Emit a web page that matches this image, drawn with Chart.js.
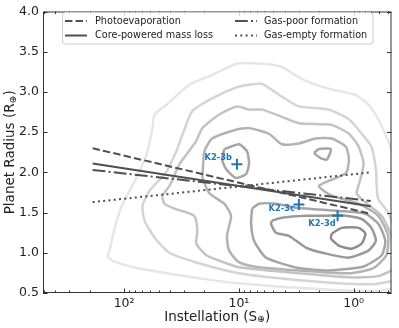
<!DOCTYPE html>
<html>
<head>
<meta charset="utf-8">
<script src="https://cdn.jsdelivr.net/npm/chart.js@4.4.1/dist/chart.umd.min.js"></script>
<style>
  html, body { margin: 0; padding: 0; background: #fff; }
</style>
</head>
<body>
<canvas id="c" width="399" height="328"></canvas>
<script>
// radius valley models, [instellation, radius] at both ends
const photoevap = [[188, 2.30], [0.71, 1.485]];
const corePowered = [[188, 2.11], [0.71, 1.58]];
const gasPoor = [[188, 2.03], [0.71, 1.645]];
const gasEmpty = [[188, 1.63], [0.71, 2.00]];
const modelNames = ['Photoevaporation', 'Core-powered mass loss', 'Gas-poor formation', 'Gas-empty formation'];

// K2-3 planets
const planetNames = ['K2-3b', 'K2-3c', 'K2-3d'];
const planetS = [10.4, 3.0, 1.38];
const planetR = [2.10, 1.60, 1.46];

// density contours of the planet sample, outer to inner, [S, R]
const contourA = [[0.42, 2.08], [0.50, 2.39], [0.61, 2.66], [0.74, 2.84], [0.96, 2.96], [1.65, 3.04], [2.83, 3.16],
  [4.22, 3.31], [6.28, 3.35], [10.4, 3.35], [17.1, 3.21], [27.0, 3.09], [42.8, 2.84], [54.3, 2.72], [56.6, 2.55],
  [63.8, 2.22], [81, 1.89], [105, 1.58], [121, 1.30], [134, 1.03], [139, 0.95], [121, 0.89], [78, 0.81],
  [33.0, 0.72], [17.1, 0.66], [9.95, 0.62], [3.66, 0.57], [1.35, 0.535], [0.67, 0.52], [0.42, 0.56]];
const contourB = [[0.42, 1.21], [0.50, 1.50], [0.61, 1.67], [0.63, 1.83], [0.64, 2.04], [0.70, 2.32], [0.85, 2.48],
  [1.10, 2.66], [1.65, 2.78], [3.00, 2.82], [4.22, 2.94], [6.28, 3.10], [8.15, 3.09], [10.4, 3.06], [17.1, 2.92],
  [25.5, 2.76], [31.0, 2.47], [35.1, 2.26], [43.6, 1.99], [60.1, 1.77], [69.2, 1.58], [66.4, 1.40], [54.3, 1.19],
  [40.3, 1.00], [23.5, 0.88], [9.95, 0.745], [3.66, 0.67], [1.35, 0.62], [0.67, 0.61], [0.42, 0.66]];
const contourC = [[0.42, 1.03], [0.48, 1.25], [0.57, 1.46], [0.82, 1.645], [0.94, 1.74], [0.87, 1.92], [0.82, 2.11],
  [0.905, 2.32], [1.10, 2.48], [1.55, 2.59], [3.00, 2.61], [4.22, 2.69], [6.28, 2.78], [8.15, 2.78], [10.4, 2.82],
  [14.8, 2.72], [20.8, 2.55], [23.5, 2.39], [28.7, 2.22], [33.0, 2.10], [40.3, 1.83], [46.3, 1.71], [44.5, 1.61],
  [36.5, 1.55], [24.5, 1.46], [23.0, 1.28], [23.5, 1.115], [19.2, 0.97], [12.9, 0.87], [9.95, 0.82], [3.00, 0.745],
  [1.10, 0.695], [0.61, 0.71], [0.42, 0.81]];
const contourD = [[20.8, 1.93], [20.0, 2.26], [17.1, 2.42], [10.6, 2.53], [8.15, 2.55], [5.47, 2.48], [4.22, 2.35],
  [3.00, 2.36], [2.14, 2.42], [1.55, 2.42], [1.17, 2.32], [1.10, 2.16], [1.17, 1.99], [2.01, 1.83], [1.55, 1.71],
  [0.905, 1.61], [0.61, 1.46], [0.50, 1.21], [0.52, 0.97], [0.67, 0.81], [1.10, 0.745], [3.00, 0.78], [6.67, 0.82],
  [9.95, 0.88], [12.2, 1.03], [12.7, 1.21], [11.7, 1.46], [13.4, 1.61], [18.1, 1.74], [20.8, 1.93]];
const contourE1 = [[13.4, 2.29], [9.95, 2.35], [8.49, 2.26], [8.15, 2.11], [8.65, 1.98], [10.6, 1.93], [12.9, 2.04],
  [14.0, 2.16], [13.4, 2.29]];
const contourE2 = [[2.22, 2.24], [2.01, 2.29], [1.58, 2.29], [1.71, 2.16], [1.93, 2.175], [2.22, 2.24]];
const contourE3 = [[7.67, 1.55], [6.67, 1.61], [4.75, 1.61], [3.18, 1.56], [1.35, 1.52], [0.79, 1.485], [0.61, 1.36],
  [0.53, 1.15], [0.57, 0.97], [0.82, 0.83], [1.65, 0.78], [3.00, 0.81], [5.80, 0.94], [7.38, 1.15], [7.83, 1.37],
  [7.67, 1.55]];
const contourF = [[5.15, 1.40], [4.22, 1.435], [2.61, 1.46], [1.75, 1.46], [1.35, 1.47], [0.85, 1.42], [0.70, 1.31],
  [0.64, 1.15], [0.74, 1.03], [1.10, 0.94], [1.75, 0.99], [2.61, 1.065], [3.66, 1.21], [4.75, 1.25], [5.25, 1.36],
  [5.15, 1.40]];
const contourG = [[1.55, 1.24], [1.27, 1.31], [0.905, 1.31], [0.79, 1.24], [0.85, 1.115], [1.04, 1.05], [1.35, 1.09],
  [1.58, 1.18], [1.55, 1.24]];

// axes
const xTicks = [1, 10, 100];
const xTickLabels = ['10⁰', '10¹', '10²'];
const yTicks = [0.5, 1.0, 1.5, 2.0, 2.5, 3.0, 3.5, 4.0];

const FONT = 'DejaVu Sans';
const lineColor = '#4f4f4f';
const modelDash = [[7.4, 3.2], [], [12.8, 3.2, 2, 3.2], [2, 3.3]];
const labelOffsets = [[-5, -6], [-4, 4], [-2, 8]];

const xy = pts => pts.map(p => ({ x: p[0], y: p[1] }));

const contourSets = [
  [contourA, '#e6e6e6'], [contourB, '#d4d4d4'], [contourC, '#c3c3c3'], [contourD, '#b3b3b3'],
  [contourE1, '#a5a5a5'], [contourE2, '#a5a5a5'], [contourE3, '#a5a5a5'], [contourF, '#999999'], [contourG, '#8c8c8c']
];

const datasets = [];

datasets.push({
  label: 'K2-3',
  data: planetS.map((s, i) => ({ x: s, y: planetR[i] })),
  pointStyle: 'cross',
  pointRadius: 5.5,
  pointBorderWidth: 2,
  pointBorderColor: '#1f77b4',
  showLine: false,
  order: 0
});

[photoevap, corePowered, gasPoor, gasEmpty].forEach((m, i) => {
  datasets.push({
    label: modelNames[i],
    data: xy(m),
    showLine: true,
    borderColor: lineColor,
    borderWidth: 2,
    borderDash: modelDash[i],
    pointRadius: 0,
    fill: false,
    order: 1
  });
});

contourSets.forEach(([pts, col]) => {
  datasets.push({
    data: xy(pts),
    showLine: true,
    borderColor: col,
    borderWidth: 2.5,
    pointRadius: 0,
    tension: 0.2,
    fill: false,
    clip: 0,
    order: 2
  });
});

function drawRich(ctx, parts, cx, cy) {
  let w = 0;
  parts.forEach(p => { ctx.font = p.font; p.w = ctx.measureText(p.t).width; w += p.w; });
  let x = cx - w / 2;
  ctx.textAlign = 'left';
  ctx.textBaseline = 'middle';
  parts.forEach(p => { ctx.font = p.font; ctx.fillText(p.t, x, cy + (p.dy || 0)); x += p.w; });
}

const decorPlugin = {
  id: 'decor',
  afterDatasetsDraw(chart) {
    const ctx = chart.ctx;
    const a = chart.chartArea;
    const xs = chart.scales.x, ys = chart.scales.y;

    // planet labels
    ctx.save();
    ctx.fillStyle = '#1f77b4';
    ctx.font = 'bold 8.3px ' + FONT;
    ctx.textAlign = 'right';
    ctx.textBaseline = 'middle';
    planetNames.forEach((n, i) => {
      const px = xs.getPixelForValue(planetS[i]);
      const py = ys.getPixelForValue(planetR[i]);
      ctx.fillText(n, px + labelOffsets[i][0], py + labelOffsets[i][1]);
    });
    ctx.restore();

    // frame and inward ticks
    ctx.save();
    ctx.strokeStyle = '#333';
    ctx.lineWidth = 1;
    ctx.strokeRect(a.left + 0.5, a.top + 0.5, a.right - a.left - 1, a.bottom - a.top - 1);
    ctx.beginPath();
    for (let k = -1; k <= 2; k++) {
      for (let m = 1; m <= 9; m++) {
        const v = m * Math.pow(10, k);
        if (v < xs.min || v > xs.max) continue;
        const px = Math.round(xs.getPixelForValue(v)) + 0.5;
        const len = m === 1 ? 4.5 : 2.5;
        ctx.moveTo(px, a.bottom); ctx.lineTo(px, a.bottom - len);
        ctx.moveTo(px, a.top); ctx.lineTo(px, a.top + len);
      }
    }
    yTicks.forEach(v => {
      const py = Math.round(ys.getPixelForValue(v)) + 0.5;
      ctx.moveTo(a.left, py); ctx.lineTo(a.left + 4.5, py);
      ctx.moveTo(a.right, py); ctx.lineTo(a.right - 4.5, py);
    });
    ctx.stroke();
    ctx.restore();

    // axis titles
    ctx.save();
    ctx.fillStyle = '#222';
    drawRich(ctx, [
      { t: 'Instellation (S', font: '13.5px ' + FONT },
      { t: '⊕', font: '9.5px ' + FONT, dy: 3 },
      { t: ')', font: '13.5px ' + FONT }
    ], (a.left + a.right) / 2, 317);
    ctx.translate(10.5, (a.top + a.bottom) / 2);
    ctx.rotate(-Math.PI / 2);
    drawRich(ctx, [
      { t: 'Planet Radius (R', font: '13.5px ' + FONT },
      { t: '⊕', font: '9.5px ' + FONT, dy: 3 },
      { t: ')', font: '13.5px ' + FONT }
    ], 0, 0);
    ctx.restore();

    // legend
    ctx.save();
    const bx = 62.5, by = 12.5, bw = 310.5, bh = 31.5;
    ctx.fillStyle = 'rgba(255,255,255,0.8)';
    ctx.strokeStyle = '#cccccc';
    ctx.lineWidth = 1;
    ctx.beginPath();
    ctx.roundRect(bx, by, bw, bh, 3);
    ctx.fill();
    ctx.stroke();
    const cols = [[65, 95], [235, 264]];
    const rows = [21, 35.5];
    ctx.font = '9.7px ' + FONT;
    ctx.textAlign = 'left';
    ctx.textBaseline = 'middle';
    modelNames.forEach((n, i) => {
      const c = cols[Math.floor(i / 2)], r = rows[i % 2];
      ctx.strokeStyle = lineColor;
      ctx.lineWidth = 2;
      ctx.setLineDash(modelDash[i]);
      ctx.beginPath();
      ctx.moveTo(c[0], r); ctx.lineTo(c[0] + 22, r);
      ctx.stroke();
      ctx.setLineDash([]);
      ctx.fillStyle = '#222';
      ctx.fillText(n, c[1], r);
    });
    ctx.restore();
  }
};

new Chart(document.getElementById('c'), {
  type: 'scatter',
  data: { datasets },
  options: {
    responsive: false,
    animation: false,
    layout: { padding: { top: 9, right: 6, left: 0, bottom: 0 } },
    plugins: { legend: { display: false }, tooltip: { enabled: false } },
    scales: {
      x: {
        type: 'logarithmic',
        reverse: true,
        min: 0.468,
        max: 509,
        grid: { display: false, drawTicks: false },
        border: { display: false },
        afterBuildTicks: s => { s.ticks = xTicks.map(v => ({ value: v })); },
        afterFit: s => { s.height = 35; },
        ticks: {
          autoSkip: false,
          maxRotation: 0,
          padding: 3,
          color: '#222',
          font: { family: FONT, size: 12.5 },
          callback: v => xTickLabels[xTicks.indexOf(v)] || ''
        }
      },
      y: {
        min: 0.5,
        max: 4.0,
        grid: { display: false, drawTicks: false },
        border: { display: false },
        afterBuildTicks: s => { s.ticks = yTicks.map(v => ({ value: v })); },
        afterFit: s => { s.width = 43; },
        ticks: {
          padding: 4,
          color: '#222',
          font: { family: FONT, size: 12.5 },
          callback: v => Number(v).toFixed(1)
        }
      }
    }
  },
  plugins: [decorPlugin]
});
</script>
</body>
</html>
